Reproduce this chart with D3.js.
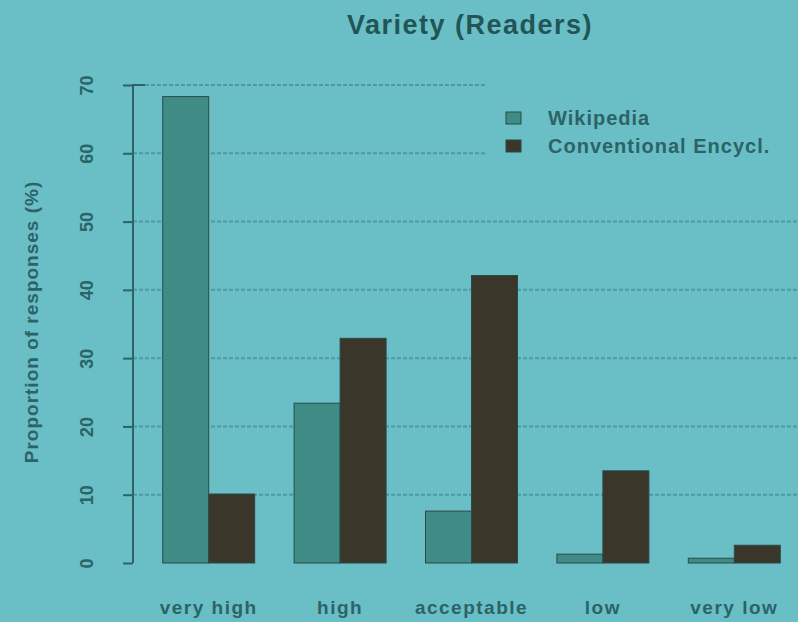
<!DOCTYPE html>
<html>
<head>
<meta charset="utf-8">
<script src="https://cdn.jsdelivr.net/npm/d3@7"></script>
<style>
  html, body { margin: 0; padding: 0; background: #6abec6; }
  svg { display: block; font-family: "Liberation Sans", Arial, sans-serif; }
</style>
</head>
<body>
<div id="chart"></div>
<script>
const categories = ["very high", "high", "acceptable", "low", "very low"];
const seriesNames = ["Wikipedia", "Conventional Encycl."];
const wikipedia = [68.3, 23.4, 7.6, 1.3, 0.7];
const conventional = [10.1, 32.9, 42.1, 13.5, 2.6];
const yTicks = [0, 10, 20, 30, 40, 50, 60, 70];

const width = 798, height = 622;
const margin = { top: 85, right: -2, bottom: 59, left: 133 };
const colors = ["#3f8c86", "#3a3629"];
const textColor = "#2b6466";

const svg = d3.select("#chart").append("svg")
    .attr("width", width)
    .attr("height", height);

// background
svg.append("rect")
    .attr("width", width)
    .attr("height", height)
    .attr("fill", "#6abec6");

const x0 = d3.scaleBand()
    .domain(categories)
    .range([143, 800])
    .paddingInner(0.3)
    .paddingOuter(0.15);

const x1 = d3.scaleBand()
    .domain(seriesNames)
    .range([0, x0.bandwidth()]);

const y = d3.scaleLinear()
    .domain([0, 70])
    .range([height - margin.bottom, margin.top]);

// gridlines
svg.append("g")
    .selectAll("line")
    .data(yTicks.filter(d => d > 0))
    .join("line")
    .attr("x1", margin.left)
    .attr("x2", width)
    .attr("y1", d => y(d))
    .attr("y2", d => y(d))
    .attr("stroke", "#4e9aa2")
    .attr("stroke-width", 2)
    .attr("stroke-dasharray", "4,2");

// bars
const data = categories.map((c, i) => ({ cat: c, vals: [wikipedia[i], conventional[i]] }));
svg.append("g")
    .selectAll("g")
    .data(data)
    .join("g")
    .attr("transform", d => `translate(${x0(d.cat)},0)`)
    .selectAll("rect")
    .data(d => d.vals.map((v, j) => ({ name: seriesNames[j], v, j })))
    .join("rect")
    .attr("x", d => x1(d.name))
    .attr("width", x1.bandwidth())
    .attr("y", d => y(d.v))
    .attr("height", d => y(0) - y(d.v))
    .attr("fill", d => colors[d.j])
    .attr("stroke", "#2c4a48")
    .attr("stroke-width", 1);

// y axis
const yAxis = svg.append("g")
    .attr("transform", `translate(${margin.left},0)`)
    .call(d3.axisLeft(y).tickValues(yTicks).tickSize(10).tickPadding(0).tickFormat(d3.format("d")));
yAxis.select(".domain").attr("stroke", "#2f6466").attr("stroke-width", 2)
    .attr("d", `M0,${y(0)}V${y(70)}H12`);
yAxis.selectAll(".tick line").attr("stroke", "#2f6466").attr("stroke-width", 2);
yAxis.selectAll(".tick text")
    .attr("fill", textColor)
    .attr("font-size", 18)
    .attr("font-weight", "bold")
    .attr("text-anchor", "middle")
    .attr("x", 0)
    .attr("dy", 0)
    .attr("transform", "translate(-45,0) rotate(-90)")
    .attr("dominant-baseline", "middle");

// x labels
svg.append("g")
    .selectAll("text")
    .data(categories)
    .join("text")
    .attr("x", d => x0(d) + x0.bandwidth() / 2)
    .attr("y", 614)
    .attr("text-anchor", "middle")
    .attr("fill", textColor)
    .attr("font-size", 19)
    .attr("font-weight", "bold")
    .attr("letter-spacing", 1.5)
    .text(d => d);

// y title
svg.append("text")
    .attr("transform", "translate(38,322) rotate(-90)")
    .attr("text-anchor", "middle")
    .attr("fill", textColor)
    .attr("font-size", 19)
    .attr("font-weight", "bold")
    .attr("letter-spacing", 1)
    .text("Proportion of responses (%)");

// title
svg.append("text")
    .attr("x", 470)
    .attr("y", 34)
    .attr("text-anchor", "middle")
    .attr("fill", "#235456")
    .attr("font-size", 27)
    .attr("font-weight", "bold")
    .attr("letter-spacing", 1.5)
    .text("Variety (Readers)");

// legend
const legend = svg.append("g").attr("transform", "translate(486,80)");
legend.append("rect")
    .attr("width", 312)
    .attr("height", 84)
    .attr("fill", "#6abec6");
seriesNames.forEach((name, i) => {
    legend.append("rect")
        .attr("x", 20)
        .attr("y", 32 + i * 28)
        .attr("width", 15)
        .attr("height", 12)
        .attr("fill", colors[i])
        .attr("stroke", "#2c4a48");
    legend.append("text")
        .attr("x", 62)
        .attr("y", 45 + i * 28)
        .attr("fill", textColor)
        .attr("font-size", 20)
        .attr("font-weight", "bold")
        .attr("letter-spacing", 1)
        .text(name);
});
</script>
</body>
</html>
